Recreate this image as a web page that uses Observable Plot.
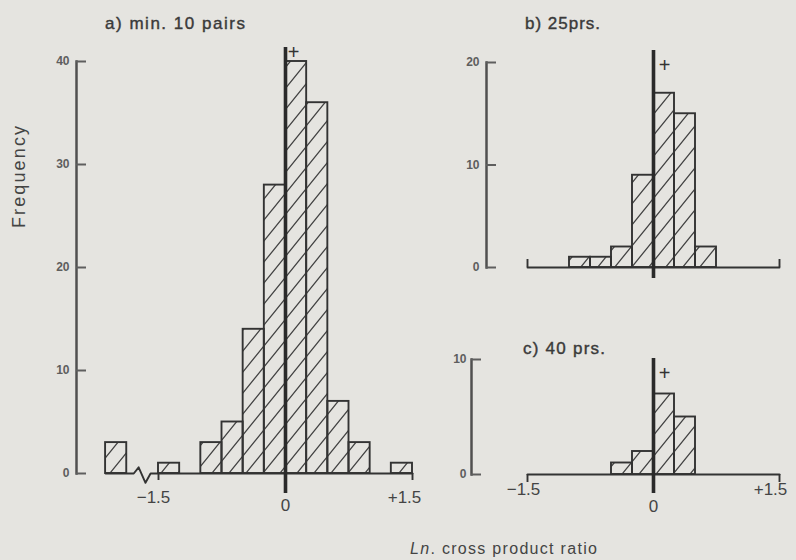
<!DOCTYPE html>
<html>
<head>
<meta charset="utf-8">
<script src="https://cdn.jsdelivr.net/npm/d3@7"></script>
<script src="https://cdn.jsdelivr.net/npm/@observablehq/plot@0.6"></script>
<style>
  html, body { margin: 0; padding: 0; background: #e5e4e0; }
  #fig { position: relative; width: 796px; height: 560px; overflow: hidden; background: #e5e4e0;
         font-family: "Liberation Sans", Arial, sans-serif; color: #3a3a3a; }
  .panel { position: absolute; }
  .lbl { position: absolute; white-space: nowrap; line-height: 1; }
</style>
</head>
<body>
<svg width="0" height="0" style="position:absolute">
  <defs>
    <pattern id="hatch" patternUnits="userSpaceOnUse" width="17" height="21">
      <path d="M0,21L17,0M-2,2.47L2,-2.47M15,23.47L19,18.53" stroke="#424242" stroke-width="1.3" fill="none"/>
    </pattern>
  </defs>
</svg>
<div id="fig"></div>
<script>
// ---------------- data ----------------
const binWidth = 0.25;
// panel a (the first bin lies beyond an axis break)
const aBinStart = [-2.125, -1.5, -1.25, -1.0, -0.75, -0.5, -0.25, 0, 0.25, 0.5, 0.75, 1.0, 1.25];
const aFreq     = [3, 1, 0, 3, 5, 14, 28, 40, 36, 7, 3, 0, 1];
// panel b
const bBinStart = [-1.0, -0.75, -0.5, -0.25, 0, 0.25, 0.5];
const bFreq     = [1, 1, 2, 9, 17, 15, 2];
// panel c
const cBinStart = [-0.5, -0.25, 0, 0.25];
const cFreq     = [1, 2, 7, 5];
// ticks
const aYTicks = [0, 10, 20, 30, 40];
const bYTicks = [0, 10, 20];
const cYTicks = [0, 10];
const xTickValues = [-1.5, 0, 1.5];
const xTickLabels = ["\u22121.5", "0", "+1.5"];
const aBreak = [-1.875, -1.5];
const panelTitles = ["a) min. 10 pairs", "b) 25prs.", "c) 40 prs."];
const yTitle = "Frequency";
const xTitleHtml = "<i>Ln</i>. cross product ratio";

// ---------------- drawing ----------------
const ink = "#333";
const axisInk = "#505050";
const fig = document.getElementById("fig");

// zig-zag shape of the axis break (fractions of the break interval, y in frequency units)
const zig = [[0, 0], [0.22, 0], [0.375, 0.6], [0.59, -0.9], [0.75, 0], [1, 0]];

function drawPanel(cfg) {
  const rows = cfg.starts.map((x0, i) => ({x0, x1: x0 + binWidth, n: cfg.freq[i]})).filter(d => d.n > 0);
  const [mt, mr, mb, ml] = cfg.margin;
  const frameH = cfg.height - mt - mb;
  const endDown = cfg.endTick < 0;
  const marks = [
    Plot.frame({anchor: "left", dx: cfg.axisDx, stroke: axisInk, strokeWidth: 2.5}),
    Plot.axisY(cfg.yTicks, {anchor: "left", dx: cfg.axisDx, tickSize: -cfg.tickLen,
      tickPadding: cfg.tickLen + cfg.labelGap, fontSize: 12, fontWeight: "bold", color: "#5e5e5e",
      strokeWidth: 2, label: null, tickFormat: d => String(d)}),
    Plot.line(cfg.baseline, {x: "x", y: "y", stroke: ink, strokeWidth: 1.9}),
    Plot.ruleX(cfg.endTicks, {x: d => d, stroke: ink, strokeWidth: 1.9,
      insetTop: endDown ? frameH : frameH - cfg.endTick,
      insetBottom: endDown ? cfg.endTick : 0}),
    Plot.rect(rows, {x1: "x0", x2: "x1", y1: 0, y2: "n", fill: "url(#hatch)",
      stroke: ink, strokeWidth: 1.9}),
    Plot.ruleX([0], {stroke: "#2a2a2a", strokeWidth: 3.6,
      insetTop: cfg.zeroInset[0], insetBottom: cfg.zeroInset[1]}),
    Plot.text([0], {x: d => d, text: () => "+", frameAnchor: "top",
      dx: cfg.plus[0], dy: cfg.plus[1], fontSize: 20, fill: ink})
  ];
  if (cfg.xLabelDy) {
    xTickValues.forEach((v, i) => {
      marks.push(Plot.text([v], {x: d => d, text: () => xTickLabels[i], frameAnchor: "bottom",
        dx: cfg.xLabelDx[i], dy: cfg.xLabelDy[i], fontSize: 17, fill: "#444"}));
    });
  }
  const svg = Plot.plot({
    width: cfg.width, height: cfg.height,
    marginTop: mt, marginRight: mr, marginBottom: mb, marginLeft: ml,
    x: {domain: [-1.5, 1.5], axis: null},
    y: {domain: [0, cfg.yMax], axis: null},
    style: {background: "transparent", fontFamily: "'Liberation Sans', Arial, sans-serif", overflow: "visible"},
    marks
  });
  const wrap = document.createElement("div");
  wrap.className = "panel";
  wrap.style.left = cfg.left + "px";
  wrap.style.top = cfg.top + "px";
  wrap.appendChild(svg);
  fig.appendChild(wrap);
}

// baseline of panel a, with break
const aBaseline = [{x: aBinStart[0], y: 0}]
  .concat(zig.map(([f, y]) => ({x: aBreak[0] + f * (aBreak[1] - aBreak[0]), y})))
  .concat([{x: 1.5, y: 0}]);
const plainBaseline = [{x: -1.5, y: 0}, {x: 1.5, y: 0}];

drawPanel({left: 0, top: 0, width: 440, height: 560, margin: [61, 28, 87, 158],
  starts: aBinStart, freq: aFreq, yMax: 40, yTicks: aYTicks,
  axisDx: -82, tickLen: 10, labelGap: 7,
  baseline: aBaseline, endTicks: [-1.5, 1.5], endTick: -7,
  zeroInset: [-14, -20], plus: [8, -17],
  xLabelDx: [-5, 0, -8], xLabelDy: [29, 37, 29]});

drawPanel({left: 440, top: 0, width: 356, height: 300, margin: [62, 17, 33, 87],
  starts: bBinStart, freq: bFreq, yMax: 20, yTicks: bYTicks,
  axisDx: -41, tickLen: 10, labelGap: 7,
  baseline: plainBaseline, endTicks: [-1.5, 1.5], endTick: 8,
  zeroInset: [-12, -11], plus: [11, -5]});

drawPanel({left: 440, top: 300, width: 356, height: 260, margin: [59, 17, 86, 87],
  starts: cBinStart, freq: cFreq, yMax: 10, yTicks: cYTicks,
  axisDx: -56, tickLen: 10, labelGap: 5,
  baseline: plainBaseline, endTicks: [-1.5, 1.5], endTick: -8,
  zeroInset: [-1, -19], plus: [11, 6],
  xLabelDx: [-4, 0, -9], xLabelDy: [20, 37, 20]});

// ---------------- text labels (fitted to the reference's extents) ----------------
function label(html, {x0, x1, cy, size, rotate = false, bold = false, color = "#3a3a3a"}) {
  const el = document.createElement("div");
  el.className = "lbl";
  el.innerHTML = html;
  el.style.fontSize = size + "px";
  el.style.color = color;
  if (bold) el.style.webkitTextStroke = "0.4px " + color;
  fig.appendChild(el);
  const n = el.textContent.length;
  const natural = el.getBoundingClientRect().width;
  const target = Math.abs(x1 - x0);
  const ls = (target - natural) / Math.max(1, n - 1);
  el.style.letterSpacing = ls.toFixed(2) + "px";
  if (rotate) {
    el.style.left = x0 + "px";
    el.style.top = cy + "px";
    el.style.transformOrigin = "0 0";
    el.style.transform = "rotate(-90deg) translate(" + (-(target / 2)) + "px, " + (-size / 2) + "px)";
  } else {
    el.style.left = x0 + "px";
    el.style.top = (cy - size / 2) + "px";
  }
}

label(panelTitles[0], {x0: 105, x1: 245, cy: 23, size: 17, bold: true});
label(panelTitles[1], {x0: 525, x1: 600, cy: 23, size: 17, bold: true});
label(panelTitles[2], {x0: 523, x1: 605, cy: 348, size: 17, bold: true});
label(yTitle, {x0: 19, x1: 121, cy: 177, size: 18, rotate: true, color: "#444"});
label(xTitleHtml, {x0: 410, x1: 597, cy: 549, size: 16, color: "#444"});
</script>
</body>
</html>
